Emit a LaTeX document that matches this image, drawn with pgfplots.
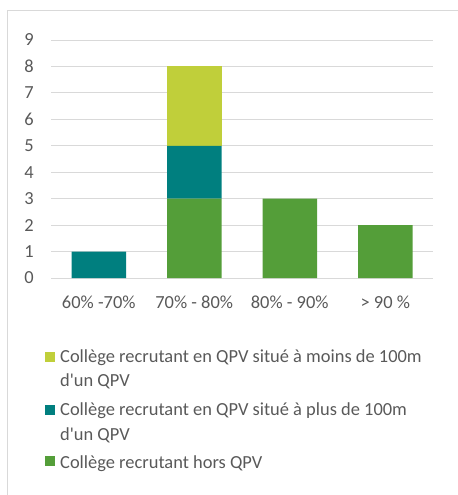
\documentclass[border=0pt]{standalone}
\usepackage{pgfplots}
\pgfplotsset{compat=1.18}
\usepackage{fontspec}
\setmainfont{Carlito}
\definecolor{clime}{HTML}{C0CF3A}
\definecolor{cteal}{HTML}{007F7F}
\definecolor{cgreen}{HTML}{549E39}
\definecolor{ctext}{HTML}{595959}
\definecolor{cgrid}{HTML}{D9D9D9}
\pgfplotsset{
  sqleg/.style={legend image code/.code={\fill[##1,draw=none] (0bp,2bp) rectangle (10bp,12bp);}},
  sqlegtwo/.style={legend image code/.code={\fill[##1,draw=none] (0bp,25bp) rectangle (10bp,35bp);}}}
\begin{document}
\begin{tikzpicture}
\path[use as bounding box] (0,0) rectangle (458bp,-495bp);
\draw[cgrid, line width=1bp] (7bp,-500bp) -- (7bp,-10bp) -- (470bp,-10bp);
\begin{axis}[
  at={(51bp,-278bp)}, anchor=south west,
  scale only axis, width=382bp, height=238bp,
  ybar stacked, bar width=54.5bp,
  xmin=-0.5, xmax=3.5, ymin=0, ymax=9,
  xtick={0,1,2,3},
  xticklabels={{60\% -70\%},{70\% - 80\%},{80\% - 90\%},{> 90 \%}},
  ytick={0,1,2,3,4,5,6,7,8,9},
  ymajorgrids, grid style={cgrid, line width=1bp},
  axis line style={draw=none},
  major tick length=0pt,
  tick label style={font=\fontsize{18.5}{23}\selectfont, text=ctext},
  /pgf/number format/assume math mode=true,
  xticklabel style={anchor=base, yshift=-30bp},
  yticklabel style={anchor=east, inner sep=0pt, xshift=-17bp},
  legend style={at={(-0.0157,-0.29)}, anchor=north west, draw=none, fill=none,
    inner sep=0pt, row sep=10bp, column sep=3bp,
    font=\fontsize{18.5}{23}\selectfont, text=ctext,
    cells={anchor=base west, align=left}, nodes={inner sep=2bp}},
  reverse legend,
]
\addplot[fill=cgreen, draw=none, sqleg] coordinates {(0,0) (1,3) (2,3) (3,2)};
\addlegendentry{Collège recrutant hors QPV}
\addplot[fill=cteal, draw=none, sqlegtwo] coordinates {(0,1) (1,2) (2,0) (3,0)};
\addlegendentry{Collège recrutant en QPV situé à plus de 100m\\[2bp]d\textquotesingle un QPV}
\addplot[fill=clime, draw=none, sqlegtwo] coordinates {(0,0) (1,3) (2,0) (3,0)};
\addlegendentry{Collège recrutant en QPV situé à moins de 100m\\[2bp]d\textquotesingle un QPV}
\end{axis}
\end{tikzpicture}
\end{document}
